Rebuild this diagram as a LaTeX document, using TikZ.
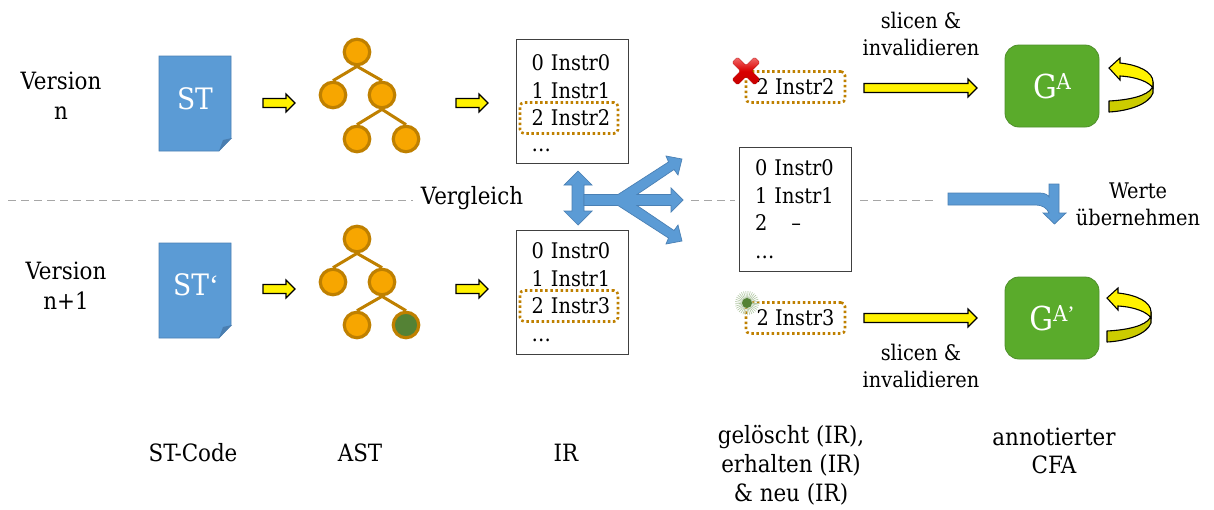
\documentclass[tikz,border=0pt]{standalone}
\usepackage{fontspec}
\setmainfont{DejaVu Serif Condensed}
\newfontfamily\quotefont{Liberation Serif}
\usetikzlibrary{calc}
\definecolor{docblue}{HTML}{5B9BD5}
\definecolor{docedge}{HTML}{4A80B4}
\definecolor{folddark}{HTML}{4A7EB0}
\definecolor{treefill}{HTML}{F7A600}
\definecolor{treeedge}{HTML}{BF8000}
\definecolor{leafgreen}{HTML}{548235}
\definecolor{boxgreen}{HTML}{5AAB2B}
\definecolor{boxgreenedge}{HTML}{4E8F2A}
\definecolor{dashgrey}{HTML}{A6A6A6}
\definecolor{framegrey}{HTML}{404040}
\definecolor{darkyellow}{HTML}{CCCC00}
\tikzset{
  txt/.style={font=\fontsize{21.5}{27}\selectfont,align=center,inner sep=0pt},
  bigtxt/.style={font=\fontsize{23.8}{28.5}\selectfont,align=center,inner sep=0pt},
  treenode/.style={circle,draw=treeedge,line width=3.2pt,fill=treefill,minimum size=25.5pt,inner sep=0pt},
  treeline/.style={draw=treeedge,line width=3pt},
  irbox/.style={draw=framegrey,line width=0.9pt,fill=white,minimum width=112pt,minimum height=124pt,inner sep=0pt,
    text width=81pt,align=left,font=\fontsize{21.5}{27.5}\selectfont},
  irtext/.style={inner sep=0pt,text width=81pt,align=left,font=\fontsize{21.5}{27.5}\selectfont},
  dotbox/.style={draw=treeedge,line width=2.6pt,rounded corners=4pt,dash pattern=on 2.5pt off 2.6pt,minimum height=31pt,inner sep=0pt,
    font=\fontsize{21.5}{27}\selectfont},
  yarrow/.style={draw=black,line width=1.1pt,fill=yellow,miter limit=5},
  bluearrow/.style={draw=docedge,line width=0.7pt,fill=docblue,line join=miter},
  greybox/.style={rounded corners=14pt,draw=boxgreenedge,line width=0.8pt,fill=boxgreen,minimum width=94pt,minimum height=82pt,inner sep=0pt,text=white},
  sep/.style={draw=dashgrey,line width=1pt,dash pattern=on 8pt off 5pt},
  doctext/.style={text=white,inner sep=0pt,font=\fontsize{29.5}{30}\selectfont}
}
% yellow block arrow between two named points on a horizontal line
\newcommand\yellowarrow[2]{%
  \draw[yarrow] let \p1=(#1),\p2=(#2) in
    (\x1,\y1+4.5pt) -- (\x2-9pt,\y1+4.5pt) -- (\x2-9pt,\y1+9pt) -- (\x2,\y1) -- (\x2-9pt,\y1-9pt) -- (\x2-9pt,\y1-4.5pt) -- (\x1,\y1-4.5pt) -- cycle;}
% the page symbol
\newcommand\docshape[1]{%
  \begin{scope}[shift={(159,#1)}]
    \draw[bluearrow] (0,0) -- (72,0) -- (72,82) -- (60,95) -- (0,95) -- cycle;
    \fill[folddark] (60,95) -- (64,84) -- (73,82) -- cycle;
  \end{scope}}
% self-loop arrow
\newcommand\loopshape[2]{%
  \begin{scope}[shift={(#1,#2)}]
    \draw[yarrow,fill=darkyellow,line join=round] (0,33) .. controls (20,32) and (38,28) .. (43,20)
       -- (44,14) -- (44,25) .. controls (40,36) and (20,43) .. (0,44) -- cycle;
    \draw[yarrow,line join=miter] (0,0) -- (11,-10) -- (11,-5) .. controls (30,-3) and (44,4) .. (44,14)
       -- (44,20) .. controls (40,14) and (28,9) .. (11,8) -- (11,12) -- cycle;
  \end{scope}}
\begin{document}
\begin{tikzpicture}[x=1pt,y=-1pt]
\useasboundingbox (0,0) rectangle (1214,509);
\fill[white] (0,0) rectangle (1214,509);

% separators
\coordinate (s1a) at (8,200); \coordinate (s1b) at (413,200);
\coordinate (s2a) at (691,200); \coordinate (s2b) at (735,200);
\coordinate (s3a) at (860,200); \coordinate (s3b) at (936,200);
\draw[sep] (s1a) -- (s1b);
\draw[sep] (s2a) -- (s2b);
\draw[sep] (s3a) -- (s3b);

% labels left
\node[bigtxt,font=\fontsize{23.8}{30}\selectfont] (vn) at (61,95.5) {Version\\n};
\node[bigtxt,font=\fontsize{23.8}{30}\selectfont] (vn1) at (66,285.5) {Version\\n+1};

% documents
\docshape{56}
\node[doctext] (st) at (195,99) {ST};
\docshape{243}
\node[doctext] (stp) at (196,285) {ST{\quotefont‘}};

% tree 1
\node[treenode] (a0) at (357,52) {};
\node[treenode] (a1) at (333,95) {};
\node[treenode] (a2) at (382,95) {};
\node[treenode] (a3) at (357,139) {};
\node[treenode] (a4) at (406,139) {};
\draw[treeline] (a0.south) -- (a1.north);
\draw[treeline] (a0.south) -- (a2.north);
\draw[treeline] (a2.south) -- (a3.north);
\draw[treeline] (a2.south) -- (a4.north);
% tree 2
\node[treenode] (b0) at (357,239) {};
\node[treenode] (b1) at (333,282) {};
\node[treenode] (b2) at (382,282) {};
\node[treenode] (b3) at (357,325) {};
\node[treenode,fill=leafgreen] (b4) at (406,325) {};
\draw[treeline] (b0.south) -- (b1.north);
\draw[treeline] (b0.south) -- (b2.north);
\draw[treeline] (b2.south) -- (b3.north);
\draw[treeline] (b2.south) -- (b4.north);

% small yellow arrows
\coordinate (y1a) at (263,103); \coordinate (y1b) at (295,103);
\coordinate (y2a) at (456,103); \coordinate (y2b) at (488,103);
\coordinate (y3a) at (263,289); \coordinate (y3b) at (295,289);
\coordinate (y4a) at (456,289); \coordinate (y4b) at (488,289);
\yellowarrow{y1a}{y1b}
\yellowarrow{y2a}{y2b}
\yellowarrow{y3a}{y3b}
\yellowarrow{y4a}{y4b}

% IR boxes
\node[irbox] (ir1) at (572,101) {};
\node[irtext] (ir1t) at (572,103) {0 Instr0\\1 Instr1\\2 Instr2\\[-2pt]…};
\node[irbox] (ir2) at (572,292) {0 Instr0\\1 Instr1\\2 Instr3\\…};
\node[irbox] (ir3) at (795.5,209) {0 Instr0\\1 Instr1\\2\hspace{24pt}–\\…};

% dotted frames
\node[dotbox,minimum width=98pt] (d1) at (569,118) {};
\node[dotbox,minimum width=98pt] (d2) at (569,306) {};
\node[dotbox,minimum width=99pt] (d3) at (795.5,87) {2 Instr2};
\node[dotbox,minimum width=99pt] (d4) at (795.5,318) {2 Instr3};

% red cross
\begin{scope}[shift={(746,71)}]
\path[rounded corners=1.5pt,draw=red!65!black,line width=0.3pt,top color=red!55!white!95!black,bottom color=red!78!black,middle color=red!85!black]
  (-14,-8.5) -- (-8.5,-14) -- (0,-5.5) -- (8.5,-14) -- (14,-8.5) -- (5.5,0)
  -- (14,8.5) -- (8.5,14) -- (0,5.5) -- (-8.5,14) -- (-14,8.5) -- (-5.5,0) -- cycle;
\end{scope}
% green star
\begin{scope}[shift={(747,303)}]
\foreach \a in {0,11,...,355}{\draw[leafgreen!45!white,line width=0.6pt] (0,0) -- (\a:12);}
\fill[leafgreen] (0,0) circle (5);
\end{scope}

% Vergleich
\node[bigtxt] (vgl) at (472,198) {Vergleich};

% double arrow and fork
\draw[bluearrow] (578,171) -- (592,185) -- (584,185) -- (584,211) -- (592,211) -- (578,225) -- (564,211) -- (572,211) -- (572,185) -- (564,185) -- cycle;
\draw[bluearrow] (584,194.5) -- (618,194.5) -- (668.5,162) -- (666,156) -- (682,159) -- (678,175) -- (674,169.5) -- (637,194.5)
  -- (671,194.5) -- (671,188) -- (683,200) -- (671,212) -- (671,205.5)
  -- (637,205.5) -- (674,230.5) -- (678,225) -- (682,241) -- (666,244) -- (668.5,238) -- (618,205.5) -- (584,205.5) -- cycle;

% long yellow arrows
\coordinate (l1a) at (864,88); \coordinate (l1b) at (977,88);
\coordinate (l2a) at (864,318); \coordinate (l2b) at (977,318);
\yellowarrow{l1a}{l1b}
\yellowarrow{l2a}{l2b}

% green boxes
\node[greybox] (g1) at (1052,86) {\fontsize{33}{34}\selectfont G\raisebox{9pt}{\fontsize{22}{23}\selectfont A}};
\node[greybox] (g2) at (1052,318) {\fontsize{33}{34}\selectfont G\raisebox{9pt}{\fontsize{22}{23}\selectfont A{\quotefont’}}};
\loopshape{1109}{68}
\loopshape{1107}{298}

% bent blue arrow
\draw[bluearrow] (948,193) -- (1040,193) .. controls (1045,193) and (1048,195) .. (1049,197) -- (1049,184) -- (1059,184) -- (1059,213) -- (1066,213) -- (1054.5,224) -- (1043,213) -- (1049,213)
  .. controls (1047,208) and (1042,205) .. (1036,205) -- (948,205) -- cycle;

% text labels
\node[txt] (t1) at (921,34) {slicen \&\\invalidieren};
\node[txt] (t2) at (921,365.5) {slicen \&\\invalidieren};
\node[txt] (t3) at (1138,204.5) {Werte\\übernehmen};
\node[bigtxt] (c1) at (193,453) {ST-Code};
\node[bigtxt] (c2) at (360,453) {AST};
\node[bigtxt] (c3) at (566,453) {IR};
\node[bigtxt,font=\fontsize{23.8}{29}\selectfont] (c4) at (791,465.5) {gelöscht (IR),\\erhalten (IR)\\\& neu (IR)};
\node[bigtxt,font=\fontsize{23.8}{28}\selectfont] (c5) at (1054,451) {annotierter\\CFA};
\end{tikzpicture}
\end{document}
